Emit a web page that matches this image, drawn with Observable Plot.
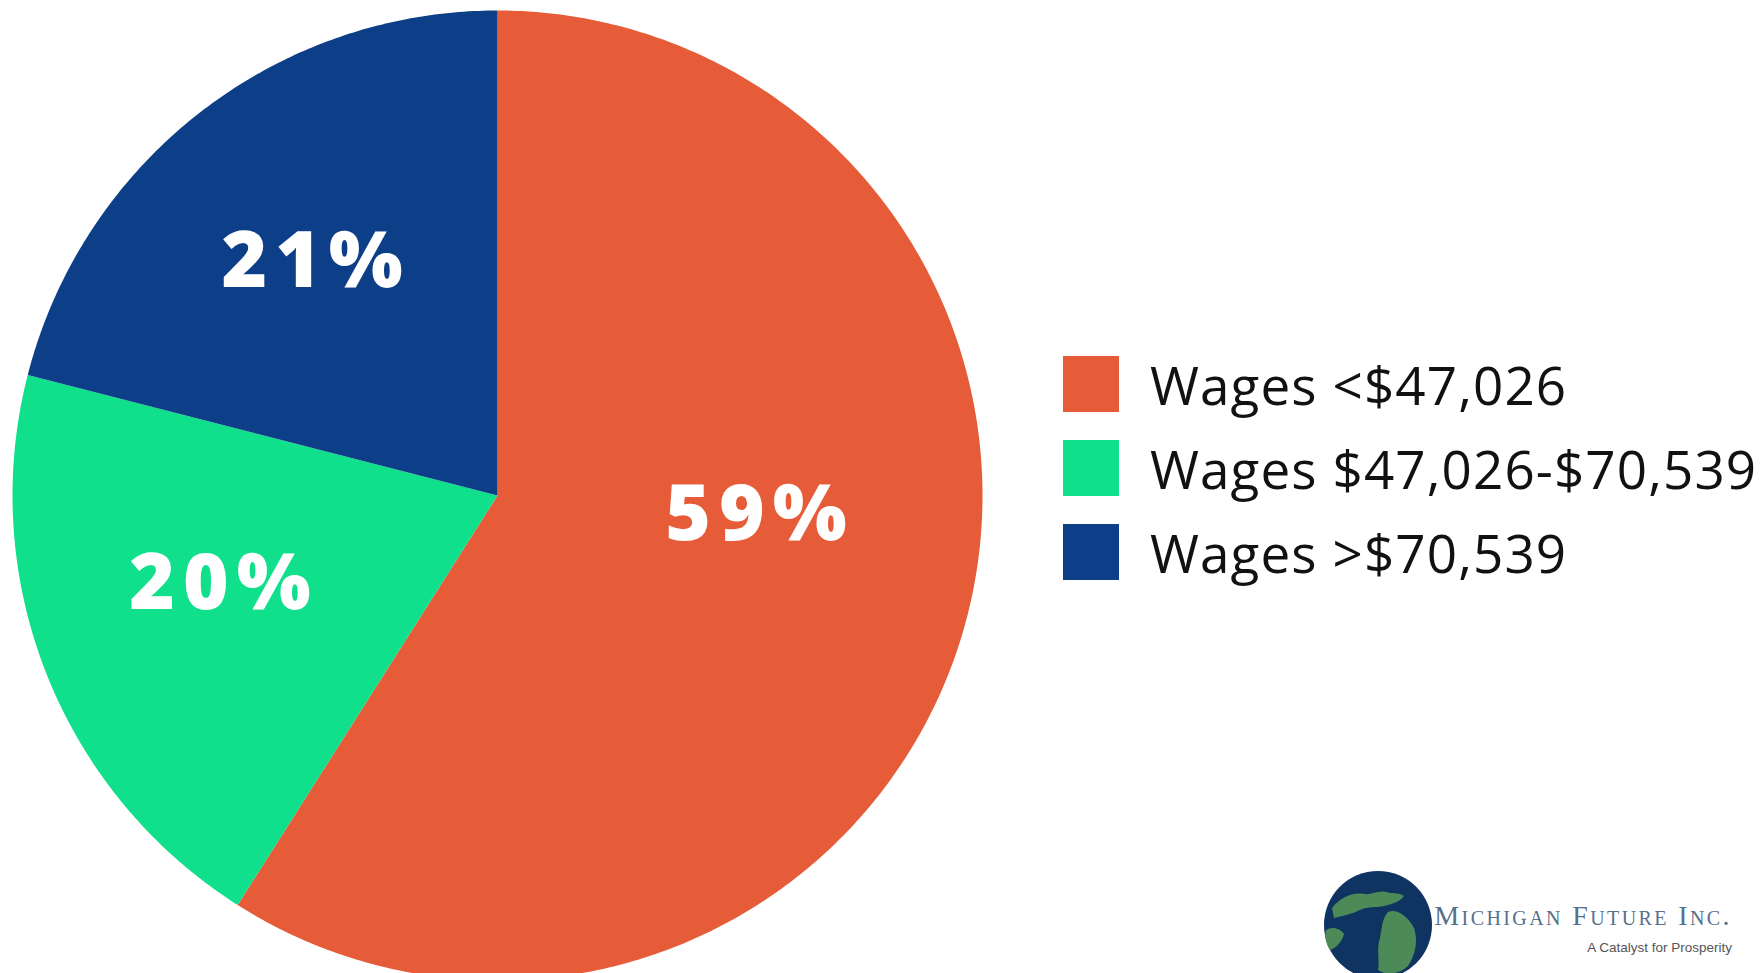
<!DOCTYPE html>
<html>
<head>
<meta charset="utf-8">
<script src="https://cdn.jsdelivr.net/npm/d3@7"></script>
<script src="https://cdn.jsdelivr.net/npm/@observablehq/plot@0.6"></script>
<style>
  html, body { margin: 0; padding: 0; background: #fff; overflow: hidden; }
  #page { position: relative; width: 1763px; height: 973px; overflow: hidden; background: #fff; }
  #chart { position: absolute; left: 0; top: 0; }
  #legend { position: absolute; left: 1063px; top: 342px; font-family: "Open Sans", sans-serif; }
  .item { display: flex; align-items: center; height: 84px; margin: 0; }
  .sw { width: 56px; height: 56px; margin-right: 31px; }
  .lab { font-size: 53px; color: #111; white-space: nowrap; letter-spacing: 1.1px; }
  #logo { position: absolute; left: 1318px; top: 868px; }
</style>
</head>
<body>
<div id="page">
  <div id="chart"></div>
  <div id="legend"></div>
  <svg id="logo" width="445" height="105" viewBox="0 0 445 105">
    <circle cx="60" cy="57" r="54" fill="#0f3462"/>
    <path d="M14,40 C22,30 34,24 46,26 C54,27 60,22 68,24 C74,26 80,24 86,28 C82,34 74,36 66,38 C58,40 50,38 42,42 C34,46 24,48 16,50 Z" fill="#4c8a57"/>
    <path d="M70,44 C78,40 90,48 96,60 C100,72 98,86 90,98 C82,106 68,108 60,102 C62,92 58,82 62,70 C64,60 64,50 70,44 Z" fill="#4c8a57"/>
    <path d="M8,62 C14,58 22,60 26,66 C24,74 18,80 12,82 C8,76 6,68 8,62 Z" fill="#4c8a57"/>
    <text x="414" y="57" text-anchor="end" font-family="Liberation Serif, serif" font-size="28" fill="#56708c" style="font-variant: small-caps; letter-spacing: 2.4px;">Michigan Future Inc.</text>
    <text x="414" y="84" text-anchor="end" font-family="Liberation Sans Narrow, Liberation Sans, sans-serif" font-size="13.5" fill="#555">A Catalyst for Prosperity</text>
  </svg>
</div>
<script>
const categories = ["Wages <$47,026", "Wages $47,026-$70,539", "Wages >$70,539"];
const shares = [59, 20, 21];
const labels = ["59%", "20%", "21%"];
const colors = ["#e65c38", "#10df8c", "#0d3f88"];

const total = d3.sum(shares);
let cum = 0;
const slices = shares.map((v, i) => {
  const a0 = cum / total * 2 * Math.PI;
  cum += v;
  const a1 = cum / total * 2 * Math.PI;
  return {category: categories[i], label: labels[i], a0, a1, mid: (a0 + a1) / 2};
});

// polygon outline of each wedge (angles clockwise from 12 o'clock)
const outline = [];
for (const s of slices) {
  outline.push({category: s.category, x: 0, y: 0});
  const n = Math.max(2, Math.ceil((s.a1 - s.a0) / 0.01));
  for (let k = 0; k <= n; k++) {
    const a = s.a0 + (s.a1 - s.a0) * k / n;
    outline.push({category: s.category, x: Math.sin(a), y: Math.cos(a)});
  }
  outline.push({category: s.category, x: 0, y: 0});
}

const lr = 0.6;
const labelPts = slices.map(s => ({label: s.label, x: lr * Math.sin(s.mid), y: lr * Math.cos(s.mid)}));

const textStyle = {x: "x", y: "y", text: "label", fill: "white", fontSize: 78, fontWeight: 800, fontFamily: "Open Sans"};
const cx = 497, cy = 495, R = 485;
const chart = Plot.plot({
  width: 1000,
  height: 973,
  margin: 0,
  style: {overflow: "visible", background: "transparent"},
  x: {domain: [-1, 1], range: [cx - R, cx + R], axis: null},
  y: {domain: [-1, 1], range: [cy + R, cy - R], axis: null},
  color: {domain: categories, range: colors},
  marks: [
    Plot.line(outline, {x: "x", y: "y", z: "category", fill: "category", stroke: "none", curve: "linear"}),
    Plot.text(labelPts.slice(0, 1), {...textStyle, dx: -17, dy: -62}),
    Plot.text(labelPts.slice(1, 2), {...textStyle, dx: -3, dy: -19}),
    Plot.text(labelPts.slice(2), {...textStyle, dx: -3, dy: -4})
  ]
});
document.getElementById("chart").appendChild(chart);
chart.querySelectorAll("text").forEach(t => t.style.letterSpacing = "8px");

const legend = d3.select("#legend");
categories.forEach((c, i) => {
  const row = legend.append("div").attr("class", "item");
  row.append("div").attr("class", "sw").style("background", colors[i]);
  row.append("div").attr("class", "lab").text(c);
});
</script>
</body>
</html>
